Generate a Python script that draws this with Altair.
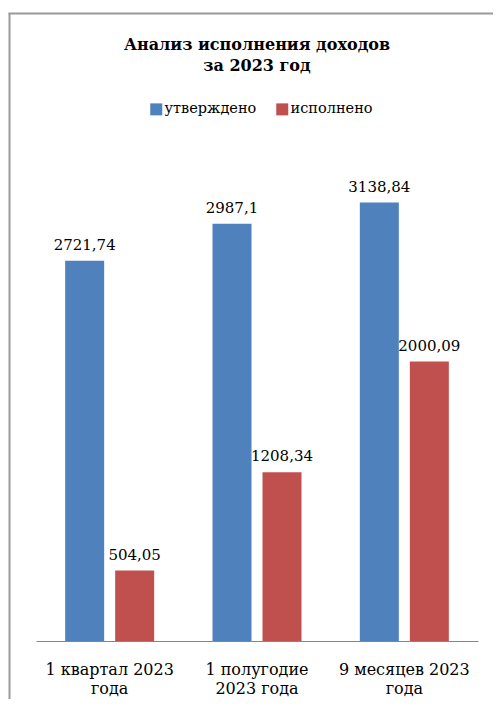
import altair as alt
import pandas as pd

categories = ["1 квартал 2023\nгода", "1 полугодие\n2023 года", "9 месяцев 2023\nгода"]
series = ["утверждено", "исполнено"]
approved = [2721.74, 2987.1, 3138.84]
executed = [504.05, 1208.34, 2000.09]
colors = ["#4F81BD", "#C0504D"]

rows = []
for i, c in enumerate(categories):
    rows.append({"cat": c, "series": series[0], "value": approved[i]})
    rows.append({"cat": c, "series": series[1], "value": executed[i]})
df = pd.DataFrame(rows)
df["label"] = df["value"].map(lambda v: f"{v:g}".replace(".", ","))

FONT = "DejaVu Serif"

x_enc = alt.X("cat:N", sort=categories, title=None,
              scale=alt.Scale(paddingInner=0, paddingOuter=0),
              axis=alt.Axis(labelExpr="split(datum.label, '\\n')", labelAngle=0,
                            labelFont=FONT, labelFontSize=16, labelColor="#000000",
                            labelLineHeight=19, labelPadding=20, ticks=False,
                            domainColor="#868686", domainWidth=1.2, grid=False))
xo_enc = alt.XOffset("series:N", sort=series,
                     scale=alt.Scale(paddingInner=0.22, paddingOuter=0.583))
y_enc = alt.Y("value:Q", scale=alt.Scale(domain=[0, 3300], nice=False), axis=None)

bars = alt.Chart(df).mark_bar().encode(
    x=x_enc, xOffset=xo_enc, y=y_enc,
    color=alt.Color("series:N", sort=series,
                    scale=alt.Scale(domain=series, range=colors),
                    legend=alt.Legend(orient="none", legendX=113, legendY=-78,
                                      direction="horizontal", symbolType="square",
                                      symbolSize=144, symbolStrokeWidth=0,
                                      labelFont=FONT, labelFontSize=14.5,
                                      labelColor="#000000", columnPadding=18,
                                      labelOffset=1, padding=0, title=None)),
)

labels = alt.Chart(df).mark_text(font=FONT, fontSize=15, baseline="alphabetic",
                                 dy=-11, color="#000000").encode(
    x=x_enc, xOffset=xo_enc, y=y_enc, text="label:N"
)

frame_df = pd.DataFrame({"k": [0]})
left_line = alt.Chart(frame_df).mark_rule(color="#9A9A9A", strokeWidth=2).encode(
    x=alt.value(-26.5), y=alt.value(-167), y2=alt.value(540))
top_line = alt.Chart(frame_df).mark_rule(color="#9A9A9A", strokeWidth=2).encode(
    x=alt.value(-27.5), x2=alt.value(480), y=alt.value(-166.5))

chart = alt.layer(left_line, top_line, bars, labels).properties(
    width=442, height=461,
    title=alt.TitleParams(text=["Анализ исполнения доходов", "за 2023 год"],
                          anchor="middle", frame="group", font=FONT, fontSize=16,
                          fontWeight="bold", color="#000000", lineHeight=21,
                          offset=-62),
    autosize=alt.AutoSizeParams(type="none"),
    padding={"left": 28, "top": 172, "right": 15, "bottom": 58},
).configure_view(stroke=None)

chart.save("out.html", embed_options={"renderer": "svg", "actions": False})
